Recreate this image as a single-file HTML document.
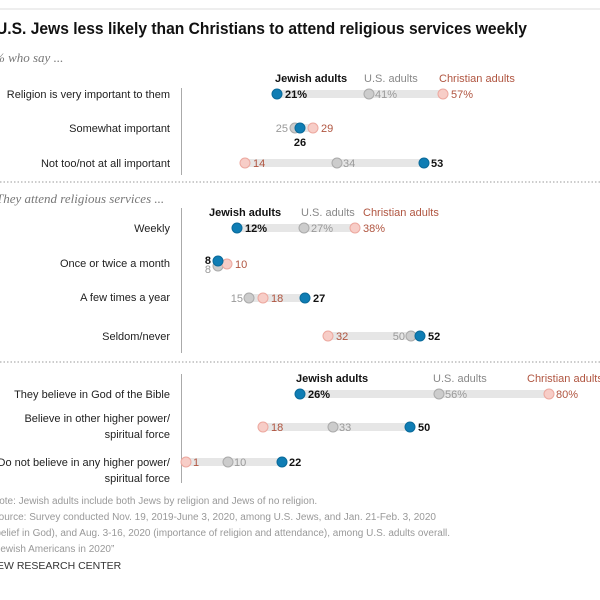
<!DOCTYPE html>
<html><head><meta charset="utf-8"><style>
body{margin:0;background:#fff;}
svg{display:block;font-family:"Liberation Sans",sans-serif;}
</style></head><body>
<svg width="600" height="600" viewBox="0 0 600 600">
<line x1="0" y1="9" x2="600" y2="9" stroke="#ddd" stroke-width="1"/>
<text x="-4" y="34" font-size="17" font-weight="bold" fill="#111" textLength="531" lengthAdjust="spacingAndGlyphs">U.S. Jews less likely than Christians to attend religious services weekly</text>
<text x="-6" y="62" font-size="13" font-style="italic" font-family="Liberation Serif,serif" fill="#777">% who say ...</text>
<g font-size="11" fill="#222" text-anchor="end">
<text x="170" y="98">Religion is very important to them</text>
<text x="170" y="132">Somewhat important</text>
<text x="170" y="167">Not too/not at all important</text>
<text x="170" y="232">Weekly</text>
<text x="170" y="267">Once or twice a month</text>
<text x="170" y="301">A few times a year</text>
<text x="170" y="340">Seldom/never</text>
<text x="170" y="398">They believe in God of the Bible</text>
<text x="170" y="422">Believe in other higher power/</text>
<text x="170" y="438">spiritual force</text>
<text x="170" y="466">Do not believe in any higher power/</text>
<text x="170" y="482">spiritual force</text>
</g>
<g stroke="#aaa" stroke-width="1">
<line x1="181.5" y1="88" x2="181.5" y2="175"/>
<line x1="181.5" y1="208" x2="181.5" y2="353"/>
<line x1="181.5" y1="374" x2="181.5" y2="483"/>
</g>
<g stroke="#999" stroke-dasharray="1.5,2" stroke-width="1">
<line x1="0" y1="182" x2="600" y2="182"/>
<line x1="0" y1="362" x2="600" y2="362"/>
</g>
<text x="-4" y="203" font-size="13" font-style="italic" font-family="Liberation Serif,serif" fill="#777">They attend religious services ...</text>
<g fill="#e6e6e6">
<rect x="277" y="90" width="166" height="8"/>
<rect x="295" y="124" width="18" height="8"/>
<rect x="245" y="159" width="179" height="8"/>
<rect x="235" y="224" width="120" height="8"/>
<rect x="249" y="294" width="55" height="8"/>
<rect x="327" y="332" width="96" height="8"/>
<rect x="300" y="390" width="249" height="8"/>
<rect x="263" y="423" width="147" height="8"/>
<rect x="185" y="458" width="97" height="8"/>
</g>
<g font-size="11">
<text x="275" y="82" font-weight="bold" fill="#111">Jewish adults</text>
<text x="364" y="82" fill="#888">U.S. adults</text>
<text x="439" y="82" fill="#b05540">Christian adults</text>
<text x="209" y="216" font-weight="bold" fill="#111">Jewish adults</text>
<text x="301" y="216" fill="#888">U.S. adults</text>
<text x="363" y="216" fill="#b05540">Christian adults</text>
<text x="296" y="382" font-weight="bold" fill="#111">Jewish adults</text>
<text x="433" y="382" fill="#888">U.S. adults</text>
<text x="527" y="382" fill="#b05540">Christian adults</text>
</g>
<g stroke-width="1">
<circle cx="369" cy="94" r="5" fill="#ccc" stroke="#aaa"/>
<circle cx="443" cy="94" r="5" fill="#f7cdc7" stroke="#eda89f"/>
<circle cx="277" cy="94" r="5" fill="#0f7db4" stroke="#0a6a9a"/>
<circle cx="295" cy="128" r="5" fill="#ccc" stroke="#aaa"/>
<circle cx="313" cy="128" r="5" fill="#f7cdc7" stroke="#eda89f"/>
<circle cx="300" cy="128" r="5" fill="#0f7db4" stroke="#0a6a9a"/>
<circle cx="245" cy="163" r="5" fill="#f7cdc7" stroke="#eda89f"/>
<circle cx="337" cy="163" r="5" fill="#ccc" stroke="#aaa"/>
<circle cx="424" cy="163" r="5" fill="#0f7db4" stroke="#0a6a9a"/>
<circle cx="304" cy="228" r="5" fill="#ccc" stroke="#aaa"/>
<circle cx="355" cy="228" r="5" fill="#f7cdc7" stroke="#eda89f"/>
<circle cx="237" cy="228" r="5" fill="#0f7db4" stroke="#0a6a9a"/>
<circle cx="218" cy="266" r="5" fill="#ccc" stroke="#aaa"/>
<circle cx="227" cy="264" r="5" fill="#f7cdc7" stroke="#eda89f"/>
<circle cx="218" cy="261" r="5" fill="#0f7db4" stroke="#0a6a9a"/>
<circle cx="249" cy="298" r="5" fill="#ccc" stroke="#aaa"/>
<circle cx="263" cy="298" r="5" fill="#f7cdc7" stroke="#eda89f"/>
<circle cx="305" cy="298" r="5" fill="#0f7db4" stroke="#0a6a9a"/>
<circle cx="328" cy="336" r="5" fill="#f7cdc7" stroke="#eda89f"/>
<circle cx="411" cy="336" r="5" fill="#ccc" stroke="#aaa"/>
<circle cx="420" cy="336" r="5" fill="#0f7db4" stroke="#0a6a9a"/>
<circle cx="439" cy="394" r="5" fill="#ccc" stroke="#aaa"/>
<circle cx="549" cy="394" r="5" fill="#f7cdc7" stroke="#eda89f"/>
<circle cx="300" cy="394" r="5" fill="#0f7db4" stroke="#0a6a9a"/>
<circle cx="263" cy="427" r="5" fill="#f7cdc7" stroke="#eda89f"/>
<circle cx="333" cy="427" r="5" fill="#ccc" stroke="#aaa"/>
<circle cx="410" cy="427" r="5" fill="#0f7db4" stroke="#0a6a9a"/>
<circle cx="186" cy="462" r="5" fill="#f7cdc7" stroke="#eda89f"/>
<circle cx="228" cy="462" r="5" fill="#ccc" stroke="#aaa"/>
<circle cx="282" cy="462" r="5" fill="#0f7db4" stroke="#0a6a9a"/>
</g>
<g font-size="11">
<text x="285" y="98" font-weight="bold" fill="#111">21%</text>
<text x="375" y="98" fill="#999">41%</text>
<text x="451" y="98" fill="#b05540">57%</text>
<text x="288" y="132" fill="#999" text-anchor="end">25</text>
<text x="321" y="132" fill="#b05540">29</text>
<text x="300" y="146" font-weight="bold" fill="#111" text-anchor="middle">26</text>
<text x="253" y="167" fill="#b05540">14</text>
<text x="343" y="167" fill="#999">34</text>
<text x="431" y="167" font-weight="bold" fill="#111">53</text>
<text x="245" y="232" font-weight="bold" fill="#111">12%</text>
<text x="311" y="232" fill="#999">27%</text>
<text x="363" y="232" fill="#b05540">38%</text>
<text x="211" y="264" font-weight="bold" fill="#111" text-anchor="end">8</text>
<text x="211" y="273" fill="#999" text-anchor="end">8</text>
<text x="235" y="268" fill="#b05540">10</text>
<text x="243" y="302" fill="#999" text-anchor="end">15</text>
<text x="271" y="302" fill="#b05540">18</text>
<text x="313" y="302" font-weight="bold" fill="#111">27</text>
<text x="336" y="340" fill="#b05540">32</text>
<text x="405" y="340" fill="#999" text-anchor="end">50</text>
<text x="428" y="340" font-weight="bold" fill="#111">52</text>
<text x="308" y="398" font-weight="bold" fill="#111">26%</text>
<text x="445" y="398" fill="#999">56%</text>
<text x="556" y="398" fill="#b05540">80%</text>
<text x="271" y="431" fill="#b05540">18</text>
<text x="339" y="431" fill="#999">33</text>
<text x="418" y="431" font-weight="bold" fill="#111">50</text>
<text x="193" y="466" fill="#b05540">1</text>
<text x="234" y="466" fill="#999">10</text>
<text x="289" y="466" font-weight="bold" fill="#111">22</text>
</g>
<g font-size="10" fill="#999">
<text x="-8" y="504">Note: Jewish adults include both Jews by religion and Jews of no religion.</text>
<text x="-8" y="520">Source: Survey conducted Nov. 19, 2019-June 3, 2020, among U.S. Jews, and Jan. 21-Feb. 3, 2020</text>
<text x="-8" y="536">(belief in God), and Aug. 3-16, 2020 (importance of religion and attendance), among U.S. adults overall.</text>
<text x="-8" y="552">“Jewish Americans in 2020”</text>
</g>
<text x="-10" y="569" font-size="10.5" fill="#333">PEW RESEARCH CENTER</text>
</svg>
</body></html>
